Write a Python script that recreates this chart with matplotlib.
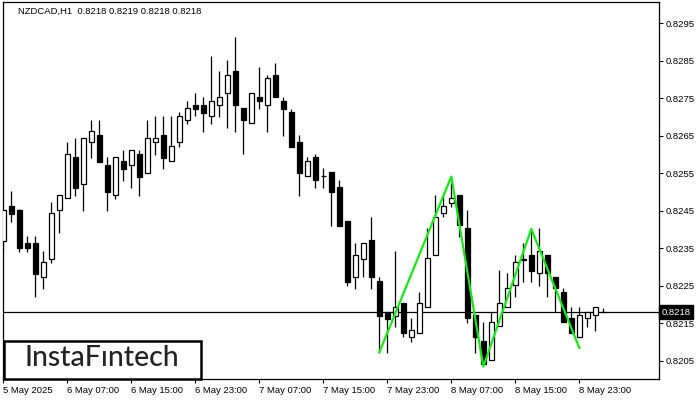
import numpy as np
import matplotlib.pyplot as plt
from matplotlib.patches import Rectangle

# NZDCAD H1 candles
opens = [0.82371, 0.82463, 0.82453, 0.82365, 0.82365, 0.82273, 0.82323, 0.82452, 0.82484, 0.82594,
         0.82523, 0.82633, 0.82652, 0.82573, 0.82492, 0.82583, 0.82572, 0.82601, 0.82552, 0.82633,
         0.82652, 0.82583, 0.82633, 0.82693, 0.82732, 0.82732, 0.82702, 0.82732, 0.82764, 0.82823,
         0.82724, 0.82684, 0.82753, 0.82732, 0.82812, 0.82743, 0.82713, 0.82633, 0.82543, 0.82594,
         0.82543, 0.82553, 0.82513, 0.82423, 0.82273, 0.82323, 0.82372, 0.82263, 0.82181, 0.82171,
         0.82204, 0.82113, 0.82124, 0.82193, 0.82332, 0.82444, 0.82472, 0.82493, 0.82404, 0.82173,
         0.82103, 0.82053, 0.82143, 0.82193, 0.82253, 0.82323, 0.82333, 0.82284, 0.82333, 0.82273,
         0.82233, 0.82164, 0.82113, 0.82164, 0.82172, 0.8218]
highs = [0.82455, 0.82503, 0.82455, 0.82383, 0.82383, 0.82343, 0.82474, 0.82493, 0.82634, 0.82645,
         0.82645, 0.82693, 0.82693, 0.82594, 0.82594, 0.82613, 0.82613, 0.82613, 0.82693, 0.82703,
         0.82703, 0.82703, 0.82713, 0.82743, 0.82764, 0.82753, 0.82863, 0.82823, 0.82853, 0.82913,
         0.82724, 0.82764, 0.82833, 0.82812, 0.82844, 0.82753, 0.82723, 0.82652, 0.82594, 0.82601,
         0.82565, 0.82553, 0.82533, 0.82423, 0.82364, 0.82364, 0.82433, 0.82273, 0.82181, 0.82343,
         0.82204, 0.82164, 0.82233, 0.82404, 0.82493, 0.82493, 0.82524, 0.82493, 0.82453, 0.82173,
         0.82153, 0.82181, 0.82293, 0.82284, 0.82333, 0.82364, 0.82404, 0.82404, 0.82333, 0.82273,
         0.82244, 0.82193, 0.82193, 0.82181, 0.82193, 0.8219]
lows = [0.82341, 0.82421, 0.82341, 0.82341, 0.82221, 0.82243, 0.82312, 0.82392, 0.82484, 0.82491,
        0.82451, 0.82592, 0.82581, 0.82451, 0.82483, 0.8253, 0.82512, 0.82491, 0.82552, 0.82599,
        0.82563, 0.82583, 0.82621, 0.82683, 0.82703, 0.82661, 0.82683, 0.82701, 0.82672, 0.82661,
        0.82601, 0.82684, 0.82723, 0.82661, 0.82753, 0.82651, 0.82621, 0.82491, 0.82543, 0.82512,
        0.82512, 0.82411, 0.82411, 0.82251, 0.82243, 0.82273, 0.82243, 0.82072, 0.82072, 0.82141,
        0.82113, 0.82101, 0.82124, 0.82193, 0.82332, 0.82433, 0.82461, 0.82381, 0.82152, 0.82072,
        0.82042, 0.82053, 0.82143, 0.82193, 0.82221, 0.82261, 0.82261, 0.8225, 0.82221, 0.82181,
        0.82153, 0.82124, 0.82113, 0.82141, 0.82131, 0.8218]
closes = [0.82452, 0.82443, 0.82352, 0.82352, 0.82283, 0.82313, 0.82445, 0.82493, 0.82601, 0.82512,
          0.82645, 0.82663, 0.82581, 0.82501, 0.82594, 0.82563, 0.82612, 0.82541, 0.82644, 0.82644,
          0.82592, 0.82623, 0.82703, 0.82724, 0.82723, 0.82712, 0.82743, 0.82753, 0.82812, 0.82732,
          0.82692, 0.82764, 0.82742, 0.82804, 0.82753, 0.82723, 0.82621, 0.82552, 0.82583, 0.82532,
          0.82543, 0.82501, 0.82411, 0.82261, 0.82332, 0.82364, 0.82273, 0.82171, 0.82163, 0.82193,
          0.82124, 0.82132, 0.82204, 0.82324, 0.82433, 0.82463, 0.82484, 0.82413, 0.82164, 0.82113,
          0.82042, 0.82153, 0.82204, 0.82244, 0.82313, 0.8232, 0.82291, 0.82343, 0.82284, 0.82244,
          0.82153, 0.82124, 0.82172, 0.82181, 0.82193, 0.8218]

tick_pos = [0, 8, 16, 24, 32, 40, 48, 56, 64, 72]
tick_labels = ["5 May 2025", "6 May 07:00", "6 May 15:00", "6 May 23:00", "7 May 07:00",
               "7 May 15:00", "7 May 23:00", "8 May 07:00", "8 May 15:00", "8 May 23:00"]

# green pattern line
pattern_idx = [47, 56, 60, 66, 72]
pattern_price = [0.82073, 0.82542, 0.82035, 0.82402, 0.82085]

last_price = 0.8218
title = "NZDCAD,H1  0.8218 0.8219 0.8218 0.8218"

W, H = 700, 400
font = "Liberation Sans"
fig = plt.figure(figsize=(W / 100, H / 100), dpi=100)
ax = fig.add_axes([2.5 / W, 1 - 379 / H, (659 - 2.5) / W, (379 - 2) / H])

for i in range(len(opens)):
    o, h, l, c = opens[i], highs[i], lows[i], closes[i]
    ax.vlines(i, l, h, color="black", lw=0.9, zorder=2)
    bottom = min(o, c)
    height = max(abs(c - o), 0.000005)
    face = "white" if c >= o else "black"
    ax.add_patch(Rectangle((i - 0.28, bottom), 0.56, height, facecolor=face,
                           edgecolor="black", lw=0.9, zorder=3))

ax.axhline(last_price, color="black", lw=0.9, zorder=1)
ax.plot(pattern_idx, pattern_price, color="#17e817", lw=1.6, zorder=4)

ax.set_xlim(-0.1, 81.96)
ax.set_ylim(0.82002, 0.830073)

ax.yaxis.tick_right()
yt = np.round(np.arange(0.8205, 0.8296, 0.001), 4)
ax.set_yticks(yt)
ax.set_yticklabels([f"{v:.4f}" for v in yt], fontsize=6.8, family=font)
ax.set_xticks(tick_pos)
ax.set_xticklabels(tick_labels, fontsize=6.8, family=font, ha="left")
ax.tick_params(axis="both", direction="out", length=3, width=0.8, pad=2, colors="black")
for s in ax.spines.values():
    s.set_linewidth(0.9)

ax.text(1.004, last_price, f"{last_price:.4f}", transform=ax.get_yaxis_transform(),
        fontsize=6.8, family=font, color="white", va="center", ha="left",
        bbox=dict(boxstyle="square,pad=0.25", fc="black", ec="black"), zorder=5)

fig.text(18 / W, 1 - 11 / H, title, fontsize=6.8, family=font, va="center", ha="left")

# logo box
fig.add_artist(Rectangle((3.5 / W, 1 - 378.5 / H), 197.5 / W, 38 / H, transform=fig.transFigure,
                         facecolor="white", edgecolor="black", lw=1.8, zorder=10))
fig.text(101.5 / W, 1 - 358 / H, "InstaF\u0131ntech", fontsize=20.5, family="Lato", weight="medium",
         color="#222222", ha="center", va="center", zorder=11)

fig.savefig("out.png", dpi=100)
